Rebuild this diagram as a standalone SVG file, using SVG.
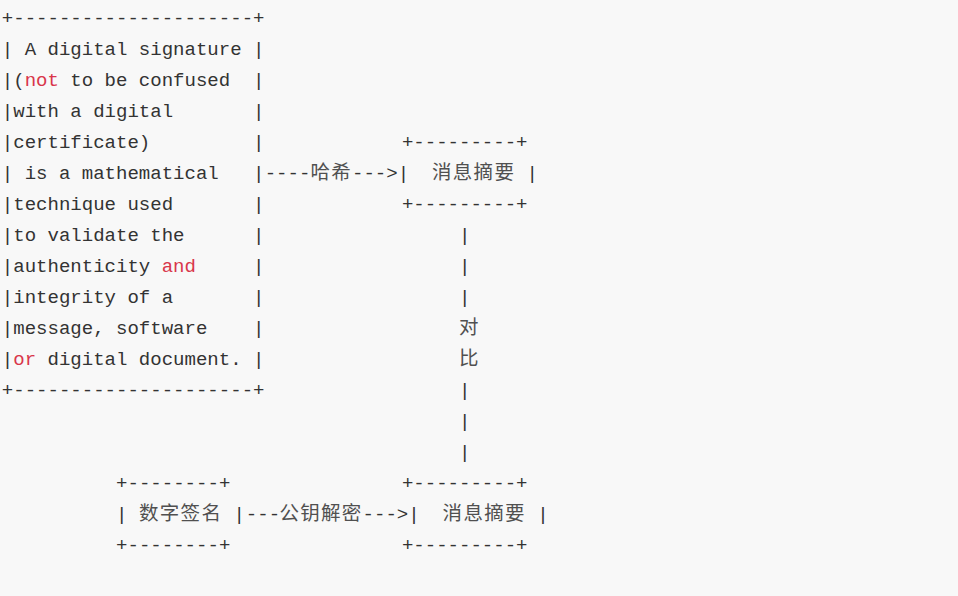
<svg xmlns="http://www.w3.org/2000/svg" width="958" height="596" viewBox="0 0 958 596">
<style>
.m{font-family:"Liberation Mono","DejaVu Sans Mono",monospace;font-size:19.05px;fill:#333333;white-space:pre}
.c{font-family:"Noto Sans CJK SC","Noto Sans",sans-serif;font-size:19.5px;letter-spacing:1.3px;fill:#505050}
.k{fill:#d9364b}
</style>
<rect width="958" height="596" fill="#f8f8f8"/>
<g id="signature-text" xml:space="preserve">
<text class="m" x="1.8" y="24">+---------------------+</text>
<text class="m" x="1.8" y="55">| A digital signature |</text>
<text class="m" x="1.8" y="86">|(<tspan class="k">not</tspan> to be confused  |</text>
<text class="m" x="1.8" y="117">|with a digital       |</text>
<text class="m" x="1.8" y="148">|certificate)         |</text>
<text class="m" x="1.8" y="179">| is a mathematical   |</text>
<text class="m" x="1.8" y="210">|technique used       |</text>
<text class="m" x="1.8" y="241">|to validate the      |</text>
<text class="m" x="1.8" y="272">|authenticity <tspan class="k">and</tspan>     |</text>
<text class="m" x="1.8" y="303">|integrity of a       |</text>
<text class="m" x="1.8" y="334">|message, software    |</text>
<text class="m" x="1.8" y="365">|<tspan class="k">or</tspan> digital document. |</text>
<text class="m" x="1.8" y="396">+---------------------+</text>
</g>
<g id="digest-top" xml:space="preserve">
<text class="m" x="401.9" y="148">+---------+</text>
<text class="m" x="397.7" y="179">|</text>
<text class="c" x="432.0" y="179">消息摘要</text>
<text class="m" x="515.2" y="179"> |</text>
<text class="m" x="401.9" y="210">+---------+</text>
</g>
<g id="digital-signature" xml:space="preserve">
<text class="m" x="116.1" y="489">+--------+</text>
<text class="m" x="116.1" y="520">| </text>
<text class="c" x="139.0" y="520">数字签名</text>
<text class="m" x="222.2" y="520"> |</text>
<text class="m" x="116.1" y="551">+--------+</text>
</g>
<g id="digest-bottom" xml:space="preserve">
<text class="m" x="401.9" y="489">+---------+</text>
<text class="m" x="408.3" y="520">|</text>
<text class="c" x="442.6" y="520">消息摘要</text>
<text class="m" x="525.8" y="520"> |</text>
<text class="m" x="401.9" y="551">+---------+</text>
</g>
<g id="connectors" xml:space="preserve">
<text class="m" x="264.7" y="179">----</text>
<text class="c" x="310.4" y="179">哈希</text>
<text class="m" x="352.0" y="179">---&gt;</text>
<text class="m" x="459.0" y="241">|</text>
<text class="m" x="459.0" y="272">|</text>
<text class="m" x="459.0" y="303">|</text>
<text class="c" x="459.0" y="334">对</text>
<text class="c" x="459.0" y="365">比</text>
<text class="m" x="459.0" y="396">|</text>
<text class="m" x="459.0" y="427">|</text>
<text class="m" x="459.0" y="458">|</text>
<text class="m" x="245.8" y="520">---</text>
<text class="c" x="279.4" y="520">公钥解密</text>
<text class="m" x="362.6" y="520">---&gt;</text>
</g>
</svg>
